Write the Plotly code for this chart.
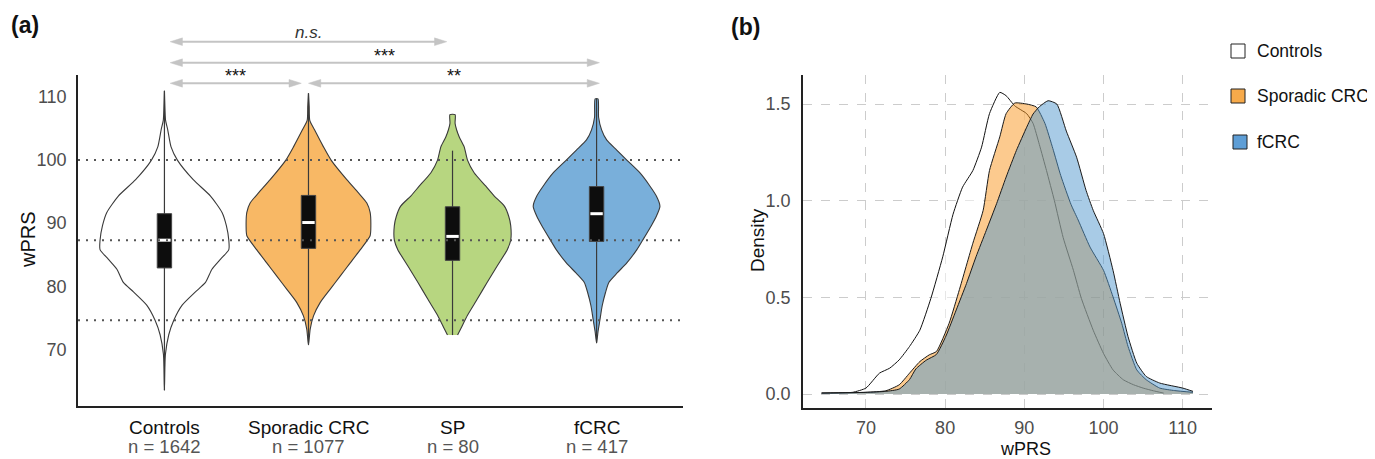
import plotly.graph_objects as go

# The page body has an 8px margin, so the figure is drawn 8px smaller and
# reference pixel positions are shifted by that offset.
OFF = 8
W, H = 1375 - OFF, 459 - OFF

# ---------------- data: panel (a) violins ----------------
groups = ["Controls", "Sporadic CRC", "SP", "fCRC"]
n_labels = ["n = 1642", "n = 1077", "n = 80", "n = 417"]
violin_fill = ["#ffffff", "#F8B865", "#B7D680", "#79AFDA"]

ctrl_y = [63.5, 67.0, 69.2, 72.3, 74.6, 77.0, 79.1, 80.6, 82.7, 84.3, 85.8, 87.3, 89.6, 91.7, 94.3, 96.9, 100.0, 102.1, 104.8, 106.3, 108.0, 111.0]
ctrl_w = [0.0, 0.003, 0.007, 0.03, 0.065, 0.123, 0.215, 0.285, 0.33, 0.39, 0.447, 0.447, 0.43, 0.40, 0.32, 0.20, 0.09, 0.046, 0.023, 0.008, 0.004, 0.0]

spor_y = [70.7, 73.2, 75.3, 77.4, 79.5, 81.6, 83.7, 85.8, 88.0, 89.6, 91.7, 93.2, 94.8, 96.9, 100.0, 102.1, 104.8, 106.3, 108.5, 110.6]
spor_w = [0.0, 0.012, 0.035, 0.081, 0.15, 0.22, 0.29, 0.36, 0.428, 0.433, 0.428, 0.405, 0.347, 0.266, 0.157, 0.104, 0.042, 0.009, 0.005, 0.0]

sp_y = [72.25, 73.3, 75.4, 78.0, 80.6, 83.2, 85.8, 87.3, 89.6, 91.1, 92.7, 94.3, 95.9, 98.0, 100.0, 102.1, 103.7, 105.8, 107.2]
sp_w = [0.035, 0.058, 0.104, 0.173, 0.24, 0.31, 0.38, 0.404, 0.404, 0.39, 0.36, 0.29, 0.23, 0.15, 0.104, 0.081, 0.046, 0.018, 0.018]

fcrc_y = [71.0, 72.8, 74.6, 76.9, 79.0, 80.6, 82.1, 83.7, 85.8, 87.3, 89.6, 91.1, 92.7, 94.3, 95.9, 98.0, 100.0, 101.6, 103.2, 104.8, 106.8, 109.7]
fcrc_w = [0.0, 0.01, 0.023, 0.039, 0.062, 0.085, 0.143, 0.21, 0.28, 0.32, 0.38, 0.415, 0.44, 0.415, 0.37, 0.30, 0.21, 0.14, 0.07, 0.035, 0.014, 0.01]

q1 = [82.9, 86.0, 84.1, 87.1]
median = [87.3, 90.1, 87.9, 91.5]
q3 = [91.5, 94.4, 92.6, 95.8]
whisk_lo = [63.5, 70.7, 72.25, 71.0]
whisk_hi = [111.0, 110.6, 101.5, 109.7]

ref_lines = [100.0, 87.3, 74.6]
y_ticks_a = [70, 80, 90, 100, 110]

# comparisons: (from x, to x, label, row)
comparisons = [(0.04, 1.96, "n.s.", 0), (0.04, 3.02, "***", 1), (0.04, 0.95, "***", 2), (1.0, 3.02, "**", 2)]

# ---------------- data: panel (b) densities ----------------
dens_ctrl_x = [64.4, 68.3, 70.0, 71.7, 73.0, 74.2, 75.5, 76.8, 78.2, 79.7, 81.0, 82.2, 83.5, 84.6, 85.6, 86.9, 87.7, 88.8, 90.3, 91.1, 91.9, 92.8, 93.8, 94.9, 96.2, 97.2, 98.7, 100.0, 101.2, 102.5, 103.8, 105.0, 106.3, 107.6]
dens_ctrl_y = [0.005, 0.009, 0.031, 0.108, 0.134, 0.177, 0.246, 0.33, 0.495, 0.71, 0.93, 1.07, 1.156, 1.277, 1.45, 1.56, 1.543, 1.49, 1.45, 1.40, 1.29, 1.156, 1.0, 0.81, 0.64, 0.495, 0.33, 0.21, 0.125, 0.074, 0.048, 0.031, 0.017, 0.005]

dens_spor_x = [64.4, 70.0, 72.5, 74.2, 75.5, 76.8, 78.0, 78.9, 80.5, 81.8, 83.5, 84.8, 85.6, 86.9, 87.7, 88.8, 90.3, 91.5, 92.6, 93.6, 94.6, 95.9, 96.8, 98.3, 100.0, 101.2, 102.3, 103.1, 104.2, 105.4, 107.1, 109.0, 111.3]
dens_spor_y = [0.005, 0.009, 0.017, 0.048, 0.108, 0.168, 0.203, 0.22, 0.366, 0.54, 0.78, 0.95, 1.156, 1.33, 1.45, 1.505, 1.50, 1.485, 1.40, 1.27, 1.13, 0.98, 0.90, 0.76, 0.64, 0.503, 0.366, 0.246, 0.125, 0.074, 0.031, 0.018, 0.009]

dens_fcrc_x = [64.4, 70.0, 72.5, 74.2, 75.5, 76.3, 77.6, 78.9, 80.1, 81.4, 82.7, 83.9, 85.2, 86.5, 87.7, 89.0, 90.3, 91.1, 91.9, 93.0, 94.1, 95.3, 96.6, 97.8, 98.7, 100.0, 101.2, 102.1, 103.1, 104.2, 105.4, 107.1, 110.0, 111.3]
dens_fcrc_y = [0.005, 0.009, 0.014, 0.026, 0.075, 0.13, 0.175, 0.205, 0.30, 0.435, 0.572, 0.71, 0.847, 0.985, 1.122, 1.26, 1.38, 1.448, 1.486, 1.517, 1.50, 1.36, 1.225, 1.053, 0.95, 0.83, 0.64, 0.47, 0.297, 0.16, 0.091, 0.057, 0.031, 0.014]

legend_labels = ["Controls", "Sporadic CRC", "fCRC"]
legend_colors = ["#ffffff", "#F7AA4A", "#5E9ED6"]

x_ticks_b = [70, 80, 90, 100, 110]
y_ticks_b = [0.0, 0.5, 1.0, 1.5]

FONT = "Liberation Sans, Arial, sans-serif"


def px(x):
    return (x - OFF) / W


def py(y):
    return 1 - (y - OFF) / H


fig = go.Figure()

profiles = [(ctrl_y, ctrl_w), (spor_y, spor_w), (sp_y, sp_w), (fcrc_y, fcrc_w)]
for i, (ys, ws) in enumerate(profiles):
    xs = [i + w for w in ws] + [i - w for w in reversed(ws)]
    yy = list(ys) + list(reversed(ys))
    fig.add_trace(go.Scatter(x=xs, y=yy, mode="lines", fill="toself", fillcolor=violin_fill[i],
                             line=dict(color="#3a3a3a", width=1.1, shape="spline", smoothing=0.6),
                             hoverinfo="skip", showlegend=False, xaxis="x", yaxis="y"))
    fig.add_trace(go.Scatter(x=[i, i], y=[whisk_lo[i], whisk_hi[i]], mode="lines",
                             line=dict(color="#3a3a3a", width=1.2), hoverinfo="skip",
                             showlegend=False, xaxis="x", yaxis="y"))
    bw = 0.05
    fig.add_trace(go.Scatter(x=[i - bw, i + bw, i + bw, i - bw, i - bw], y=[q1[i], q1[i], q3[i], q3[i], q1[i]],
                             mode="lines", fill="toself", fillcolor="#0d0d0d",
                             line=dict(color="#444444", width=1), hoverinfo="skip",
                             showlegend=False, xaxis="x", yaxis="y"))
    fig.add_trace(go.Scatter(x=[i - 0.043, i + 0.043], y=[median[i], median[i]], mode="lines",
                             line=dict(color="#ffffff", width=3), hoverinfo="skip",
                             showlegend=False, xaxis="x", yaxis="y"))

# densities
fig.add_trace(go.Scatter(x=dens_ctrl_x, y=dens_ctrl_y, mode="lines", fill="tozeroy",
                         fillcolor="rgba(255,255,255,0.5)", line=dict(color="#111111", width=1, shape="spline", smoothing=0.5),
                         hoverinfo="skip", showlegend=False, xaxis="x2", yaxis="y2"))
fig.add_trace(go.Scatter(x=dens_spor_x, y=dens_spor_y, mode="lines", fill="tozeroy",
                         fillcolor="rgba(250,150,30,0.5)", line=dict(color="#1a1a1a", width=1, shape="spline", smoothing=0.5),
                         hoverinfo="skip", showlegend=False, xaxis="x2", yaxis="y2"))
fig.add_trace(go.Scatter(x=dens_fcrc_x, y=dens_fcrc_y, mode="lines", fill="tozeroy",
                         fillcolor="rgba(82,152,205,0.5)", line=dict(color="#1a1a1a", width=1, shape="spline", smoothing=0.5),
                         hoverinfo="skip", showlegend=False, xaxis="x2", yaxis="y2"))

shapes = []
for v in ref_lines:
    shapes.append(dict(type="line", xref="x domain", yref="y", x0=0, x1=1, y0=v, y1=v,
                       line=dict(color="#555555", width=2, dash="2px,6px"), layer="above"))

# comparison arrows
row_y = [py(41.7), py(62.7), py(83.3)]
text_y = [py(32), py(56), py(76)]
ARROW_C = "#c4c4c4"
hl = 0.085   # head length in x units
hh = 0.0085  # half head height in paper units
annotations = []
for (a, b, lab, r) in comparisons:
    y0 = row_y[r]
    shapes.append(dict(type="line", xref="x", yref="paper", x0=a + hl * 0.5, x1=b - hl * 0.5, y0=y0, y1=y0,
                       line=dict(color=ARROW_C, width=2)))
    shapes.append(dict(type="path", xref="x", yref="paper",
                       path=f"M {a},{y0} L {a + hl},{y0 + hh} L {a + hl},{y0 - hh} Z",
                       fillcolor=ARROW_C, line=dict(color=ARROW_C, width=0.5)))
    shapes.append(dict(type="path", xref="x", yref="paper",
                       path=f"M {b},{y0} L {b - hl},{y0 + hh} L {b - hl},{y0 - hh} Z",
                       fillcolor=ARROW_C, line=dict(color=ARROW_C, width=0.5)))
    txt = f"<i>{lab}</i>" if lab == "n.s." else lab
    annotations.append(dict(x=(a + b) / 2, y=text_y[r], xref="x", yref="paper", text=txt, showarrow=False,
                            font=dict(family=FONT, size=17 if lab == "n.s." else 18,
                                      color="#333333" if lab == "n.s." else "#111111"),
                            xanchor="center", yanchor="middle"))

# category labels
for i, g in enumerate(groups):
    annotations.append(dict(x=i, y=py(427), xref="x", yref="paper", text=g, showarrow=False,
                            font=dict(family=FONT, size=19, color="#111111"), xanchor="center", yanchor="middle"))
    annotations.append(dict(x=i, y=py(446), xref="x", yref="paper", text=n_labels[i], showarrow=False,
                            font=dict(family=FONT, size=18.5, color="#555555"), xanchor="center", yanchor="middle"))

# titles
annotations += [
    dict(x=px(28), y=py(240), xref="paper", yref="paper", text="wPRS", textangle=-90, showarrow=False,
         font=dict(family=FONT, size=20, color="#111111"), xanchor="center", yanchor="middle"),
    dict(x=px(757), y=py(240), xref="paper", yref="paper", text="Density", textangle=-90, showarrow=False,
         font=dict(family=FONT, size=19, color="#111111"), xanchor="center", yanchor="middle"),
    dict(x=px(1025), y=py(449), xref="paper", yref="paper", text="wPRS", showarrow=False,
         font=dict(family=FONT, size=18, color="#111111"), xanchor="center", yanchor="middle"),
    dict(x=px(9), y=py(25), xref="paper", yref="paper", text="<b>(a)</b>", showarrow=False,
         font=dict(family=FONT, size=23, color="#111111"), xanchor="left", yanchor="middle"),
    dict(x=px(729), y=py(27), xref="paper", yref="paper", text="<b>(b)</b>", showarrow=False,
         font=dict(family=FONT, size=23, color="#111111"), xanchor="left", yanchor="middle"),
]

# legend
leg_y = [51, 96, 142]
leg_x = [1231, 1231, 1233]
for k, lab in enumerate(legend_labels):
    shapes.append(dict(type="rect", xref="paper", yref="paper",
                       x0=px(leg_x[k]), x1=px(leg_x[k] + 14), y0=py(leg_y[k] + 7), y1=py(leg_y[k] - 7),
                       fillcolor=legend_colors[k], line=dict(color="#222222", width=1)))
    annotations.append(dict(x=px(1255), y=py(leg_y[k]), xref="paper", yref="paper", text=lab, showarrow=False,
                            font=dict(family=FONT, size=17.5, color="#111111"), xanchor="left", yanchor="middle"))

TICKF = dict(family=FONT, size=18, color="#4d4d4d")

fig.update_layout(
    width=W, height=H, autosize=False,
    margin=dict(l=0, r=0, t=0, b=0),
    paper_bgcolor="white", plot_bgcolor="white",
    showlegend=False,
    font=dict(family=FONT),
    xaxis=dict(domain=[px(78), px(683)], range=[-0.6, 3.6], showticklabels=False, showgrid=False,
               zeroline=False, showline=True, linecolor="#222222", linewidth=1.5, ticks=""),
    yaxis=dict(domain=[py(406), py(75)], range=[61, 113.5], tickvals=y_ticks_a, showgrid=False,
               zeroline=False, showline=True, linecolor="#222222", linewidth=1.5, ticks="",
               ticklabelstandoff=6, tickfont=TICKF),
    xaxis2=dict(domain=[px(803), px(1212)], range=[62.05, 113.7], tickvals=x_ticks_b, anchor="y2",
                showgrid=True, gridcolor="#cccccc", griddash="dash", gridwidth=1, zeroline=False,
                showline=True, linecolor="#222222", linewidth=1.5, ticks="", ticklabelstandoff=3,
                tickfont=TICKF),
    yaxis2=dict(domain=[py(408), py(75)], range=[-0.072, 1.65], tickvals=y_ticks_b, tickformat=".1f",
                anchor="x2", showgrid=True, gridcolor="#cccccc", griddash="dash", gridwidth=1, zeroline=False,
                showline=True, linecolor="#222222", linewidth=1.5, ticks="", ticklabelstandoff=7,
                tickfont=TICKF),
    shapes=shapes,
    annotations=annotations,
)

fig.write_html("out.html")
